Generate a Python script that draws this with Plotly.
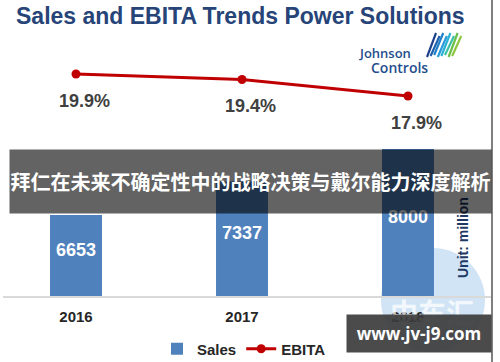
import plotly.graph_objects as go

# ---- data ----
years = ["2016", "2017", "2018"]
sales = [6653, 7337, 8000]
ebita = [19.9, 19.4, 17.9]
title_text = "Sales and EBITA Trends Power Solutions"
banner_text = "拜仁在未来不确定性中的战略决策与戴尔能力深度解析"
unit_text = "Unit: million"
site_text = "www.jv-j9.com"

# ---- layout geometry helpers (pixel -> paper) ----
W, H = 500, 362
ML, MR, MT, MB = 3, 9, 60, 66
PW, PH = W - ML - MR, H - MT - MB
Y0 = 5000  # sales axis floor


def px(x):
    return (x - ML) / PW


def py(y):
    return (H - MB - y) / PH


def paper_note(x, y, text, font, **kw):
    d = dict(x=px(x), y=py(y), xref="paper", yref="paper", text=text, showarrow=False,
             xanchor="center", yanchor="middle", font=font)
    d.update(kw)
    return d


fig = go.Figure()

fig.add_trace(go.Bar(
    x=years, y=sales, name="Sales",
    marker=dict(color="#4F81BD", line=dict(width=0)),
    width=0.313,
    yaxis="y",
))

fig.add_trace(go.Scatter(
    x=years, y=ebita, name="EBITA", mode="lines+markers",
    line=dict(color="#C00000", width=3),
    marker=dict(color="#C00000", size=9),
    yaxis="y2",
))

annotations = []
# bar value labels (centered in visible part of bar)
for i, v in enumerate(sales):
    annotations.append(dict(
        x=i, y=(Y0 + v) / 2, xref="x", yref="y", text=str(v), showarrow=False,
        xanchor="center", yanchor="middle", yshift=6,
        font=dict(family="Liberation Sans", size=18, color="white", weight="bold"),
    ))
# EBITA labels
for i, v in enumerate(ebita):
    annotations.append(dict(
        x=i, y=v, xref="x", yref="y2", text=f"{v}%", showarrow=False,
        xanchor="center", yanchor="middle", yshift=-27, xshift=8,
        font=dict(family="Liberation Sans", size=18, color="#404040", weight="bold"),
    ))

# Johnson Controls logo text
annotations.append(paper_note(385, 53, "Johnson",
                              dict(family="Open Sans", size=13, color="#1F4E8C", weight=600)))
annotations.append(paper_note(399, 67, "Controls",
                              dict(family="Open Sans", size=14, color="#1F4E8C", weight=600)))

# watermark text in circle
annotations.append(paper_note(432, 312, "中车汇",
                              dict(family="Noto Sans CJK SC", size=28, color="white", weight="bold"),
                              opacity=0.75))

# unit label
annotations.append(paper_note(463, 238, unit_text,
                              dict(family="Liberation Sans", size=14, color="#1F3864", weight="bold"),
                              textangle=-90))

# banner overlay
annotations.append(paper_note(250.5, 181.5, banner_text,
                              dict(family="Noto Sans CJK SC", size=20, color="white", weight="bold"),
                              width=481, height=63, bgcolor="rgba(0,0,0,0.61)", borderpad=0,
                              align="center", valign="middle"))

# site box
annotations.append(paper_note(419, 333.5, site_text,
                              dict(family="Open Sans", size=17, color="white", weight="bold"),
                              width=144, height=37, bgcolor="rgba(60,60,60,0.92)", borderpad=0,
                              align="center", valign="middle"))

shapes = [
    # watermark circle
    dict(type="circle", xref="paper", yref="paper", x0=px(381), x1=px(485), y0=py(352), y1=py(248),
         fillcolor="rgba(150,195,232,0.45)", line=dict(width=0), layer="below"),
    # right border line
    dict(type="line", xref="paper", yref="paper", x0=px(492), x1=px(492), y0=py(0), y1=py(362),
         line=dict(color="#555555", width=1.5)),
]

# logo stripes
stripe_colors = ["#1B3F8B", "#1F5FAE", "#1F7FC8", "#2A9BD8", "#29B2D6", "#3DBFA8", "#6BC04B", "#8DC63F"]
for i, c in enumerate(stripe_colors):
    x0 = 427 + i * 3.6
    shapes.append(dict(type="line", xref="paper", yref="paper",
                       x0=px(x0), y0=py(57 - (i % 3)), x1=px(x0 + 9), y1=py(33 + (i % 2) * 3),
                       line=dict(color=c, width=2.2)))

fig.update_layout(
    width=W, height=H,
    margin=dict(l=ML, r=MR, t=MT, b=MB, autoexpand=False),
    paper_bgcolor="white", plot_bgcolor="white",
    title=dict(text=title_text, x=16 / W, xanchor="left", xref="container",
               y=1 - 16 / H, yanchor="middle", yref="container",
               font=dict(family="Liberation Sans", size=23, color="#264478", weight="bold")),
    xaxis=dict(type="category", range=[(ML - 76) / 166, (W - MR - 76) / 166], showline=True,
               linecolor="#D9D9D9", linewidth=1.5, showgrid=False, zeroline=False,
               ticks="outside", ticklen=6, tickcolor="rgba(0,0,0,0)",
               tickfont=dict(family="Liberation Sans", size=15, color="#262626", weight="bold")),
    yaxis=dict(range=[Y0, Y0 + PH / 0.049], visible=False, showgrid=False),
    yaxis2=dict(range=[-0.28, 21.17], overlaying="y", side="right", visible=False, showgrid=False),
    showlegend=True,
    legend=dict(orientation="h", x=px(244), xanchor="center", y=py(349), yanchor="middle",
                font=dict(family="Liberation Sans", size=15, color="#262626", weight="bold"),
                bgcolor="rgba(0,0,0,0)", itemwidth=30),
    hovermode=False,
    annotations=annotations,
    shapes=shapes,
)

fig.write_html("out.html", config={"displayModeBar": False})

# remove default page margin so the figure sits at the window's top-left corner
with open("out.html", "r", encoding="utf-8") as f:
    html = f.read()
html = html.replace("<head>", "<head><style>html,body{margin:0;padding:0;}</style>", 1)
with open("out.html", "w", encoding="utf-8") as f:
    f.write(html)
